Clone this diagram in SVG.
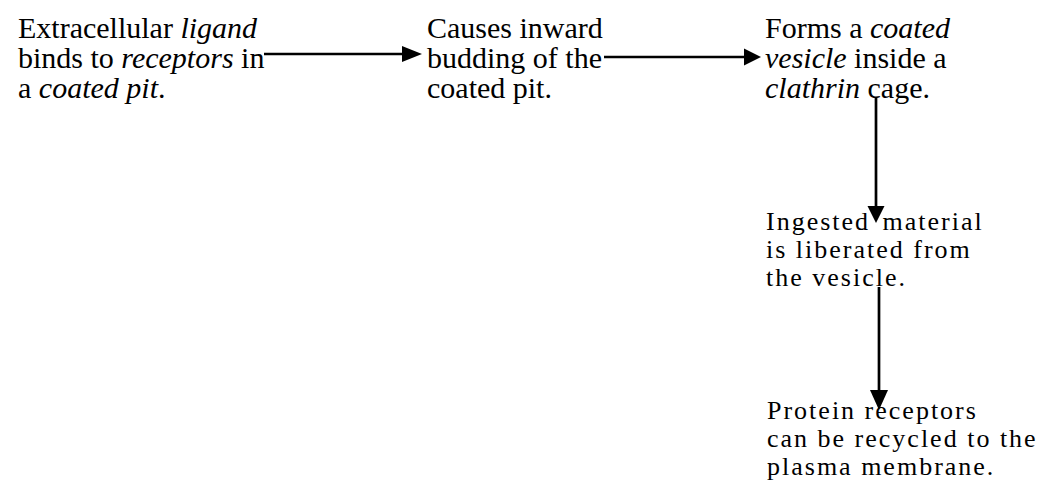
<svg xmlns="http://www.w3.org/2000/svg" width="1058" height="484" viewBox="0 0 1058 484">
<defs>
<style>
text{font-family:"Liberation Serif","Times New Roman",serif;font-size:30px;fill:#000}
.i{font-style:italic}
.sp{font-size:26px;letter-spacing:2px}
.c{stroke:#000;stroke-width:2.7;fill:none}
.h{fill:#000;stroke:none}
</style>
</defs>
<rect width="1058" height="484" fill="#fff"/>
<g id="n1">
<text x="18" y="38">Extracellular <tspan class="i">ligand</tspan></text>
<text x="18" y="68">binds to <tspan class="i">receptors</tspan> in</text>
<text x="18" y="98">a <tspan class="i">coated pit</tspan>.</text>
</g>
<g id="n2">
<text x="427" y="38">Causes inward</text>
<text x="427" y="68">budding of the</text>
<text x="427" y="98">coated  pit.</text>
</g>
<g id="n3">
<text x="765" y="38">Forms a <tspan class="i">coated</tspan></text>
<text x="765" y="68"><tspan class="i">vesicle</tspan> inside a</text>
<text x="765" y="98"><tspan class="i">clathrin</tspan> cage.</text>
</g>
<g id="n4">
<text x="766" y="230" class="sp">Ingested <tspan dx="4">material</tspan></text>
<text x="766" y="258" class="sp">is liberated from</text>
<text x="766" y="286" class="sp">the vesicle.</text>
</g>
<g id="n5">
<text x="767" y="419" class="sp">Protein  receptors</text>
<text x="767" y="447" class="sp">can be recycled to the</text>
<text x="767" y="475" class="sp">plasma membrane.</text>
</g>
<g id="connectors">
<line class="c" x1="264" y1="54" x2="404" y2="54"/>
<polygon class="h" points="402,46 422,54 402,62"/>
<line class="c" x1="604" y1="57" x2="746" y2="57"/>
<polygon class="h" points="744,48.5 761,57 744,65.5"/>
<line class="c" x1="876" y1="97" x2="876" y2="208"/>
<polygon class="h" points="867.5,206 884.5,206 876,223"/>
<line class="c" x1="879" y1="287" x2="879" y2="392"/>
<polygon class="h" points="870,390 888,390 879,410"/>
</g>
</svg>
